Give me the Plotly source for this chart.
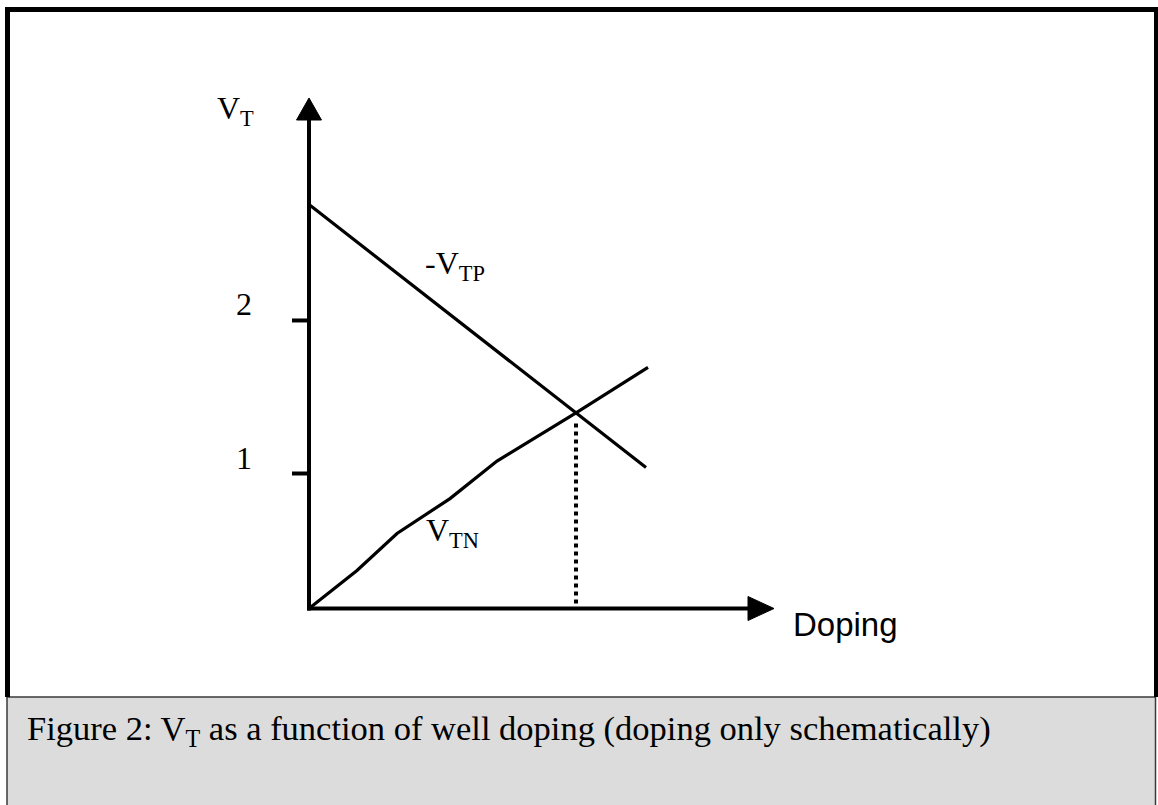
import plotly.graph_objects as go

W, H = 1158, 805

# ---- data (schematic units) ----
doping_tp = [0.0, 3.37]
vtp_neg = [3.015, 1.052]          # -V_TP

doping_tn = [0.0, 0.48, 0.88, 1.41, 1.88, 2.67, 3.39]
vtn = [0.0, 0.284, 0.56, 0.82, 1.10, 1.46, 1.80]   # V_TN

cross_x = [2.67, 2.67]
cross_y = [1.38, 0.03]

tick_vals = [1.0, 2.142]
tick_text = ["1", "2"]

caption = "Figure 2: V<sub>T</sub> as a function of well doping (doping only schematically)"

# ---- geometry ----
X0, Y0 = 309, 608.5      # pixel position of data origin
XU, YU = 100.0, 134.0    # pixels per data unit
XEND, YTOP = 755, 112    # end of plotting domain (pixels)

def px(x):  # data x -> pixel
    return X0 + x * XU

def py(y):  # data y -> pixel
    return Y0 - y * YU

def pxp(p):  # pixel -> paper
    return p / W

def pyp(p):
    return 1 - p / H

xrange_ = [0, (XEND - X0) / XU]
yrange_ = [0, (Y0 - YTOP) / YU]

fig = go.Figure()
fig.add_trace(go.Scatter(x=doping_tp, y=vtp_neg, mode="lines",
                         line=dict(color="black", width=3.2), hoverinfo="skip"))
fig.add_trace(go.Scatter(x=doping_tn, y=vtn, mode="lines",
                         line=dict(color="black", width=3.2), hoverinfo="skip"))
fig.add_trace(go.Scatter(x=cross_x, y=cross_y, mode="lines",
                         line=dict(color="black", width=4, dash="dot"), hoverinfo="skip"))

shapes = []
def rect(x0, y0, x1, y1, fill, line_color=None, lw=0):
    shapes.append(dict(type="rect", xref="paper", yref="paper",
                       x0=pxp(x0), x1=pxp(x1), y0=pyp(y0), y1=pyp(y1),
                       fillcolor=fill, line=dict(color=line_color or fill, width=lw),
                       layer="above"))

def line(x0, y0, x1, y1, w, color="black"):
    shapes.append(dict(type="line", xref="paper", yref="paper",
                       x0=pxp(x0), x1=pxp(x1), y0=pyp(y0), y1=pyp(y1),
                       line=dict(color=color, width=w), layer="above"))

def tri(pts):
    d = "M " + " L ".join(f"{pxp(a)},{pyp(b)}" for a, b in pts) + " Z"
    shapes.append(dict(type="path", xref="paper", yref="paper", path=d,
                       fillcolor="black", line=dict(color="black", width=1), layer="above"))

# caption box
rect(7, 697, 1155.5, 812, "#dcdcdc", "#3a3a3a", 1.5)
# outer frame
rect(5, 7, 1158, 12, "black")
rect(5, 7, 10, 697, "black")
rect(1154, 7, 1158, 697, "black")

# axes
line(X0, Y0 + 2, X0, 118, 4)
line(X0 - 2, Y0, 750, Y0, 4)
tri([(X0, 98), (X0 - 12.5, 120), (X0 + 12.5, 120)])
tri([(774, Y0), (748, Y0 - 12), (748, Y0 + 12)])
for tv in tick_vals:
    line(292, py(tv) - 1, X0, py(tv) - 1, 4)

annotations = []
def text(s, x, y, size, family, xanchor="left"):
    annotations.append(dict(text=s, xref="paper", yref="paper",
                            x=pxp(x), y=pyp(y), xanchor=xanchor, yanchor="middle",
                            showarrow=False, font=dict(size=size, family=family, color="black")))

SERIF = "Liberation Serif, Times New Roman, serif"
SANS = "Liberation Sans, Arial, sans-serif"

for tv, tt in zip(tick_vals, tick_text):
    text(tt, 244, py(tv) - 17, 32, SERIF, "center")

text("V<sub>T</sub>", 215, 110, 32, SERIF)
text("-V<sub>TP</sub>", 423, 265, 32, SERIF)
text("V<sub>TN</sub>", 424, 532, 32, SERIF)
text("Doping", 791, 624, 33, SANS)
text(caption, 25, 730, 34.5, SERIF)

fig.update_layout(
    width=W, height=H,
    margin=dict(l=0, r=0, t=0, b=0),
    paper_bgcolor="white", plot_bgcolor="white",
    showlegend=False,
    xaxis=dict(domain=[pxp(X0), pxp(XEND)], range=xrange_, visible=False, fixedrange=True),
    yaxis=dict(domain=[pyp(Y0), pyp(YTOP)], range=yrange_, visible=False, fixedrange=True),
    shapes=shapes, annotations=annotations,
)

fig.write_html("out.html", config={"displayModeBar": False},
               post_script="document.body.style.margin='0';document.body.style.overflow='hidden';")
